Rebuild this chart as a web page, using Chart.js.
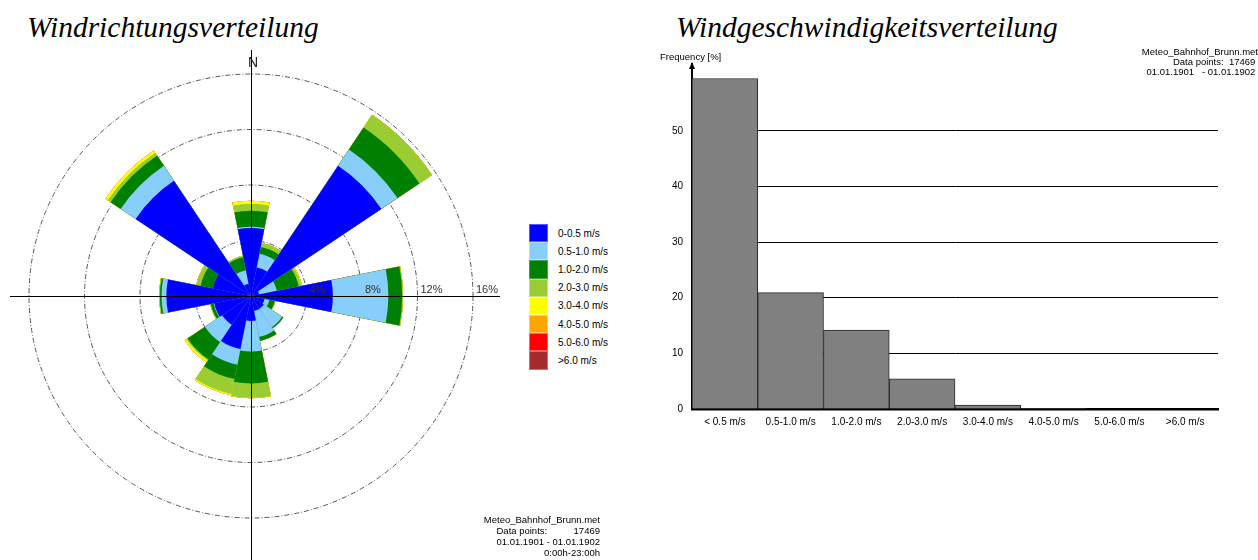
<!DOCTYPE html>
<html>
<head>
<meta charset="utf-8">
<title>Wind</title>
<script src="https://cdn.jsdelivr.net/npm/chart.js@4.4.1/dist/chart.umd.min.js"></script>
<style>
  html, body { margin: 0; padding: 0; width: 1258px; height: 560px; overflow: hidden; background: #fff; }
  body { position: relative; font-family: "Liberation Sans", Arial, sans-serif; color: #000; }
  .title { position: absolute; top: 13px; font-family: "Liberation Serif", "Times New Roman", serif; font-style: italic; font-size: 29.5px; line-height: 29px; white-space: nowrap; }
  #roseBox { position: absolute; left: 0; top: 0; }
  #histBox { position: absolute; left: 640px; top: 40px; }
  #legend { position: absolute; left: 529px; top: 224px; font-size: 10px; }
  #legend .row { height: 18.2px; display: flex; align-items: center; }
  #legend .sw { width: 19px; height: 18.2px; box-sizing: border-box; margin-right: 10px; }
  .info { position: absolute; font-size: 9.5px; line-height: 11px; white-space: pre; text-align: right; }
  #freqLabel { position: absolute; left: 660px; top: 51px; font-size: 9.5px; }
</style>
</head>
<body>
<div class="title" style="left:27px">Windrichtungsverteilung</div>
<div class="title" style="left:676px">Windgeschwindigkeitsverteilung</div>

<div id="roseBox"><canvas id="rose" width="502" height="592"></canvas></div>
<div id="legend"></div>
<div class="info" style="right:658px; top:514px">Meteo_Bahnhof_Brunn.met
Data points:          17469
01.01.1901 - 01.01.1902
0:00h-23:00h</div>

<div id="histBox"><canvas id="hist" width="600" height="400"></canvas></div>
<div id="freqLabel">Frequency [%]</div>
<div class="info" style="right:0px; top:47px; line-height:10px">Meteo_Bahnhof_Brunn.met
Data points:  17469 
01.01.1901   - 01.01.1902 </div>

<script>
// --- Daten Windrose (Häufigkeit in % je Sektor und Geschwindigkeitsklasse) ---
const directions = ['N','NNE','NE','ENE','E','ESE','SE','SSE','S','SSW','SW','WSW','W','WNW','NW','NNW'];
const speedClasses = ['0-0.5 m/s','0.5-1.0 m/s','1.0-2.0 m/s','2.0-3.0 m/s','3.0-4.0 m/s','4.0-5.0 m/s','5.0-6.0 m/s','>6.0 m/s'];

const freq00_05 = [4.9, 2.1, 11.3, 0.6, 5.9, 1.0, 1.1, 1.1, 1.8, 3.9, 2.5, 2.7, 6.1, 2.8, 10.0, 0.9];
const freq05_10 = [0.1, 1.0, 1.4, 1.3, 4.0, 0.35, 1.6, 1.9, 2.2, 1.15, 1.5, 0.05, 0.35, 0.0, 1.3, 1.0];
const freq10_20 = [1.15, 0.5, 1.9, 1.6, 1.0, 0.4, 0.1, 0.3, 2.3, 1.05, 1.5, 0.2, 0.12, 0.9, 0.87, 0.95];
const freq20_30 = [0.5, 0.3, 1.1, 0.2, 0.06, 0.05, 0, 0, 1.05, 1.1, 0.1, 0.05, 0.05, 0.3, 0.25, 0.1];
const freq30_40 = [0.22, 0, 0, 0.05, 0, 0, 0, 0, 0.02, 0.1, 0.15, 0, 0, 0.02, 0.2, 0];
const freq40_50 = [0, 0, 0, 0, 0, 0, 0, 0, 0, 0, 0, 0, 0, 0, 0, 0];
const freq50_60 = [0, 0, 0, 0, 0, 0, 0, 0, 0, 0, 0, 0, 0, 0, 0, 0];
const freq60up  = [0, 0, 0, 0, 0, 0, 0, 0, 0, 0, 0, 0, 0, 0, 0, 0];

const ringTicks = [4, 8, 12, 16];

// --- Daten Histogramm ---
const histLabels = ['< 0.5 m/s','0.5-1.0 m/s','1.0-2.0 m/s','2.0-3.0 m/s','3.0-4.0 m/s','4.0-5.0 m/s','5.0-6.0 m/s','>6.0 m/s'];
const histValues = [59.4, 20.9, 14.2, 5.4, 0.7, 0.1, 0, 0];
const histTicks = [0, 10, 20, 30, 40, 50];

// Farben
const classColors = ['#0000ff', '#87cefa', '#008000', '#9acd32', '#ffff00', '#ffa500', '#ff0000', '#a52a2a'];
const classBorders = ['#5a5aff', '#b5e0fc', '#4d9f4d', '#bde07a', '#ffff80', '#ffc766', '#ff6666', '#c87070'];

Chart.defaults.font.family = "'Liberation Sans', Arial, sans-serif";

// legende (html)
const legend = document.getElementById('legend');
speedClasses.forEach((cls, i) => {
  legend.insertAdjacentHTML('beforeend',
    `<div class="row"><div class="sw" style="background:${classColors[i]};border:1px solid ${classBorders[i]}"></div>${cls}</div>`);
});

// kumulierte Werte: dataset 0 wird zuletzt (oben) gezeichnet
const classArrays = [freq00_05, freq05_10, freq10_20, freq20_30, freq30_40, freq40_50, freq50_60, freq60up];
const cumulative = [];
classArrays.forEach((arr, i) => {
  cumulative.push(arr.map((v, d) => (i > 0 ? cumulative[i - 1][d] : 0) + v));
});

const roseOverlay = {
  id: 'roseOverlay',
  afterDatasetsDraw(chart) {
    const ctx = chart.ctx;
    const r = chart.scales.r;
    const cx = r.xCenter, cy = r.yCenter;
    ctx.save();
    ctx.strokeStyle = '#000';
    ctx.lineWidth = 1;
    ctx.beginPath();
    ctx.moveTo(10, cy + 0.5); ctx.lineTo(500, cy + 0.5);
    ctx.moveTo(cx + 0.5, 50); ctx.lineTo(cx + 0.5, 592);
    ctx.stroke();
    ctx.fillStyle = '#222';
    ctx.font = "14px 'Liberation Sans', Arial, sans-serif";
    ctx.textAlign = 'center';
    ctx.textBaseline = 'middle';
    ctx.fillText('N', cx + 2, 63);
    ctx.font = "11px 'Liberation Sans', Arial, sans-serif";
    ctx.textAlign = 'left';
    ctx.textBaseline = 'alphabetic';
    ctx.fillStyle = '#333';
    ringTicks.forEach(v => {
      ctx.fillText(v + '%', cx + r.getDistanceFromCenterForValue(v) + 3, cy - 3);
    });
    ctx.restore();
  }
};

new Chart(document.getElementById('rose'), {
  type: 'polarArea',
  data: {
    labels: directions,
    datasets: speedClasses.map((cls, i) => ({
      label: cls,
      data: cumulative[i],
      backgroundColor: classColors[i],
      borderWidth: 0
    }))
  },
  options: {
    responsive: false,
    animation: false,
    startAngle: -11.25,
    layout: { padding: { left: 29, right: 29, top: 74, bottom: 74 } },
    plugins: { legend: { display: false }, tooltip: { enabled: false } },
    scales: {
      r: {
        min: 0,
        max: 16,
        startAngle: -11.25,
        ticks: { display: false, stepSize: 4 },
        grid: { circular: true, color: '#555', lineWidth: 1 },
        border: { dash: [5, 2, 1, 2] },
        angleLines: { display: false },
        pointLabels: { display: false }
      }
    }
  },
  plugins: [roseOverlay]
});

// pfeil an der y-Achse
const axisArrow = {
  id: 'axisArrow',
  afterDraw(chart) {
    const ctx = chart.ctx;
    const x = chart.chartArea.left;
    const y = chart.chartArea.top;
    ctx.save();
    ctx.fillStyle = '#000';
    ctx.beginPath();
    ctx.moveTo(x - 3, y + 5);
    ctx.lineTo(x + 3, y + 5);
    ctx.lineTo(x, y - 2);
    ctx.closePath();
    ctx.fill();
    ctx.restore();
  }
};

new Chart(document.getElementById('hist'), {
  type: 'bar',
  data: {
    labels: histLabels,
    datasets: [{
      data: histValues,
      backgroundColor: '#808080',
      borderColor: '#2a2a2a',
      borderWidth: 1,
      barPercentage: 1,
      categoryPercentage: 1
    }]
  },
  options: {
    responsive: false,
    animation: false,
    layout: { padding: { top: 24, right: 22, left: 0, bottom: 0 } },
    plugins: { legend: { display: false }, tooltip: { enabled: false } },
    scales: {
      x: {
        grid: { display: false, drawTicks: false },
        border: { color: '#000', width: 2.5 },
        ticks: { color: '#000', font: { size: 10 }, padding: 7, maxRotation: 0, autoSkip: false },
        afterFit: s => { s.height = 31; }
      },
      y: {
        min: 0,
        max: 62,
        afterBuildTicks: s => { s.ticks = histTicks.map(v => ({ value: v })); },
        ticks: { color: '#000', font: { size: 10 }, padding: 9 },
        grid: {
          drawTicks: false,
          color: c => (c.tick && c.tick.value > 0) ? '#000' : 'rgba(0,0,0,0)'
        },
        border: { color: '#000', width: 2 },
        afterFit: s => { s.width = 52; }
      }
    }
  },
  plugins: [axisArrow]
});
</script>
</body>
</html>
